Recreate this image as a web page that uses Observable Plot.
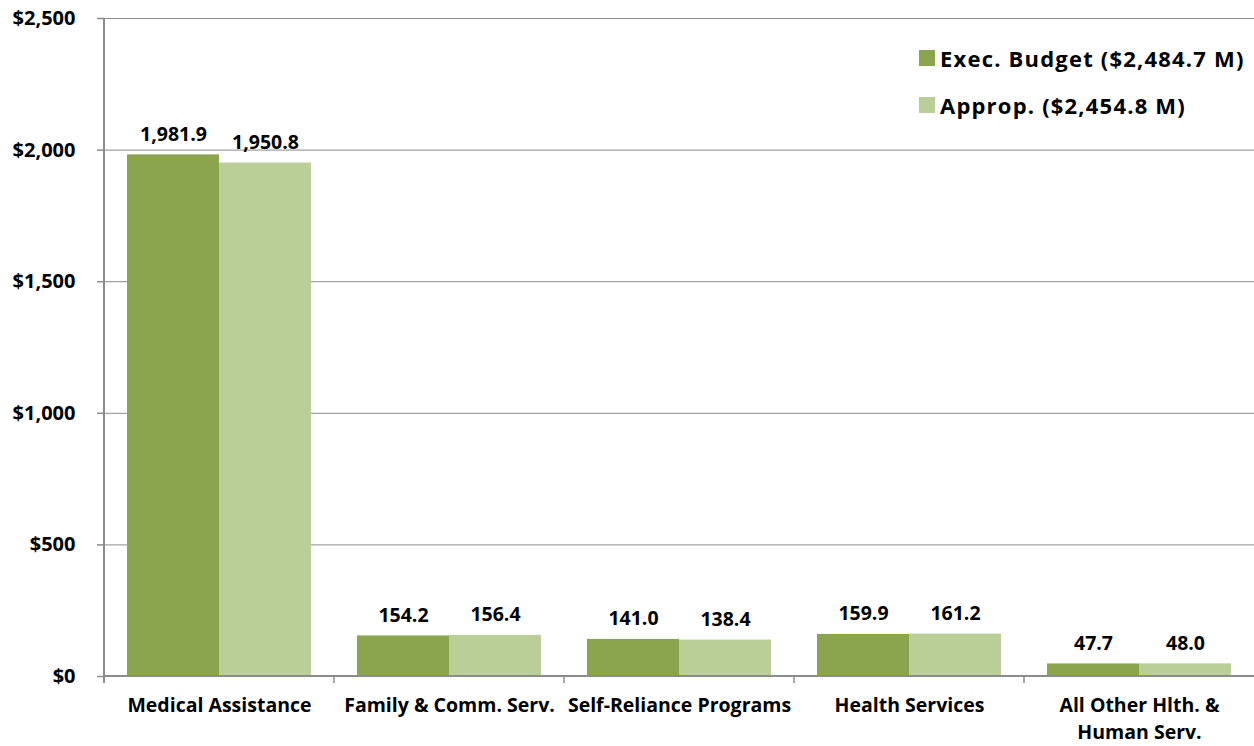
<!DOCTYPE html>
<html>
<head>
<meta charset="utf-8">
<script src="https://cdn.jsdelivr.net/npm/d3@7"></script>
<script src="https://cdn.jsdelivr.net/npm/@observablehq/plot@0.6"></script>
<style>
  html, body { margin: 0; padding: 0; background: #fff; }
  #wrap { position: relative; width: 1254px; height: 746px; overflow: hidden; font-family: "Open Sans", Lato, sans-serif; }
  .legend { position: absolute; left: 919px; font-weight: 700; font-size: 22px; letter-spacing: 1.2px; line-height: 1; color: #000; display: flex; align-items: center; white-space: nowrap; }
  .legend .sw { width: 16px; height: 16px; margin-right: 5px; display: inline-block; }
</style>
</head>
<body>
<div id="wrap"></div>
<script>
const categories = ["Medical Assistance", "Family & Comm. Serv.", "Self-Reliance Programs", "Health Services", "All Other Hlth. &\nHuman Serv."];
const seriesNames = ["Exec. Budget", "Approp."];
const seriesTotals = ["$2,484.7 M", "$2,454.8 M"];
const execBudget = [1981.9, 154.2, 141.0, 159.9, 47.7];
const approp = [1950.8, 156.4, 138.4, 161.2, 48.0];
const yTicks = [0, 500, 1000, 1500, 2000, 2500];
const colors = ["#8aa54e", "#b9cf97"];

const data = [];
categories.forEach((c, i) => {
  data.push({cat: c, series: seriesNames[0], value: execBudget[i]});
  data.push({cat: c, series: seriesNames[1], value: approp[i]});
});

const W = 1254, H = 746;
const font = "'Open Sans', Lato, sans-serif";
const plot = Plot.plot({
  width: W, height: H,
  marginLeft: 102, marginRight: -2, marginTop: 18, marginBottom: 70,
  style: {fontFamily: font, fontWeight: "700", color: "#000", background: "#fff", overflow: "visible"},
  fx: {domain: categories, padding: 0, label: null},
  x: {domain: seriesNames, paddingInner: 0, paddingOuter: 0.25, axis: null},
  y: {domain: [0, 2500], ticks: yTicks, label: null},
  color: {domain: seriesNames, range: colors},
  marks: [
    Plot.gridY(yTicks, {stroke: "#8c8c8c", strokeOpacity: 1, strokeWidth: 1}),
    Plot.barY(data, {fx: "cat", x: "series", y: "value", fill: "series", inset: 0}),
    Plot.text(data, {fx: "cat", x: "series", y: "value", text: d => d3.format(",.1f")(d.value), lineAnchor: "bottom", dy: -14, fontSize: 19.5, fontWeight: 700, fill: "#000"}),
    Plot.axisY(yTicks, {tickSize: 7, tickPadding: 22, tickFormat: d => "$" + d3.format(",")(d), fontSize: 20, fontWeight: 700, stroke: "#8c8c8c", strokeWidth: 1.5, label: null}),
    Plot.axisFx({anchor: "bottom", tickSize: 0, tickPadding: 16, fontSize: 19.5, fontWeight: 700, lineHeight: 1.4, label: null})
  ]
});

// axis lines and boundary ticks from the scales
const fx = plot.scale("fx"), y = plot.scale("y");
const svg = d3.select(plot);
const y0 = y.apply(0), yTop = y.apply(2500);
const bw = fx.bandwidth;
const bounds = categories.map(c => fx.apply(c)).concat([fx.apply(categories[categories.length - 1]) + bw]);
const g = svg.append("g").attr("stroke", "#8c8c8c");
g.append("line").attr("x1", bounds[0]).attr("x2", bounds[0]).attr("y1", yTop).attr("y2", y0 + 7).attr("stroke-width", 2);
g.append("line").attr("x1", bounds[0]).attr("x2", bounds[bounds.length - 1]).attr("y1", y0).attr("y2", y0).attr("stroke-width", 2);
bounds.slice(1, -1).forEach(b => g.append("line").attr("x1", b).attr("x2", b).attr("y1", y0).attr("y2", y0 + 7).attr("stroke-width", 1.5));

const wrap = document.getElementById("wrap");
wrap.appendChild(plot);
const tops = [47, 94];
seriesNames.forEach((s, i) => {
  const d = document.createElement("div");
  d.className = "legend";
  d.style.top = tops[i] + "px";
  d.innerHTML = `<span class="sw" style="background:${colors[i]}"></span><span>${s} (${seriesTotals[i]})</span>`;
  wrap.appendChild(d);
});
</script>
</body>
</html>
